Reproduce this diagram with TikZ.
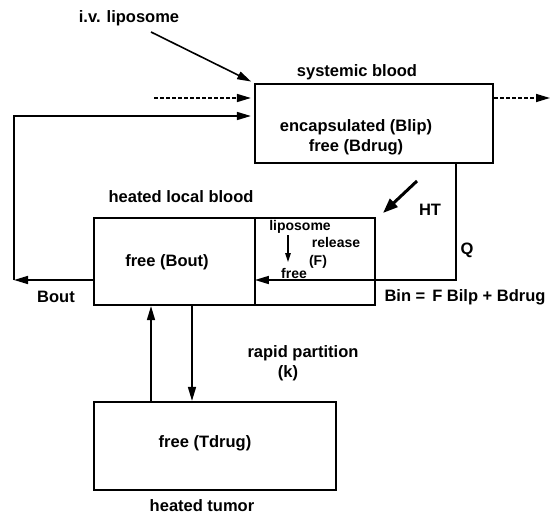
\documentclass[tikz,border=0pt]{standalone}
\usepackage{fontspec}
\setmainfont{Liberation Sans}
\usetikzlibrary{arrows.meta}
\begin{document}
\begin{tikzpicture}[x=1pt,y=-1pt,
  box/.style={draw, line width=2.2pt, inner sep=0pt},
  lbl/.style={font=\fontsize{16.5}{19}\selectfont\bfseries, inner sep=0pt},
  small/.style={font=\fontsize{14}{16}\selectfont\bfseries, inner sep=0pt},
  conn/.style={line width=1.6pt},
  arr/.style={conn, -{Triangle[length=14pt,width=8pt]}},
  dotarr/.style={arr, dash pattern=on 3.5pt off 2.5pt}]
\useasboundingbox (0,0) rectangle (550,514);
% boxes
\node[box, minimum width=238pt, minimum height=79pt] (sys) at (374,123.5) {};
\node[box, minimum width=161pt, minimum height=87pt] (hl) at (174.5,261.5) {};
\node[box, minimum width=120pt, minimum height=87pt] (hr) at (315,261.5) {};
\node[box, minimum width=242pt, minimum height=88pt] (tum) at (215,446) {};
% labels
\node[lbl] (iv) at (129,18) {i.v. liposome};
\node[lbl] (sb) at (357,72) {systemic blood};
\node[lbl] (enc) at (356,127) {encapsulated (Blip)};
\node[lbl] (bd) at (356,147) {free (Bdrug)};
\node[lbl] (hlb) at (181,197) {heated local blood};
\node[lbl] (ht) at (430,210) {HT};
\node[lbl] (q) at (467,250) {Q};
\node[lbl] (bout) at (167,262) {free (Bout)};
\node[small] (lip) at (300,227) {liposome};
\node[small] (rel) at (336,242) {release};
\node[small] (F) at (318,262) {(F)};
\node[small] (fr) at (294,273) {free};
\node[lbl] (boutl) at (56,297) {Bout};
\node[lbl] (bin) at (465,297) {Bin =\hspace{7pt}F Bilp + Bdrug};
\node[lbl] (rp) at (303,353) {rapid partition};
\node[lbl] (k) at (288,373) {(k)};
\node[lbl] (td) at (205,443) {free (Tdrug)};
\node[lbl] (htum) at (202,506) {heated tumor};
% coordinates
\coordinate (ivs) at (151,32);
\coordinate (din) at (154,98);
\coordinate (dout) at (550,98);
\coordinate (lc) at (14,280);
\coordinate (sc) at (14,116);
\coordinate (qc) at (456,280);
\coordinate (hts) at (417,181);
\coordinate (hte) at (383,213);
\coordinate (la) at (288,235);
\coordinate (lb) at (288,262);
\coordinate (ux) at (151,0);
\coordinate (dx) at (192,0);
% connectors
\draw[arr, shorten >=3pt] (ivs) -- (sys.north west);
\draw[dotarr, shorten >=3pt] (din) -- (din -| sys.west);
\draw[dotarr] (sys.east |- dout) -- (dout);
\draw[arr] (hl.west |- lc) -- (lc);
\draw[arr, shorten >=3pt] (lc) -- (sc) -- (sc -| sys.west);
\draw[arr, shorten >=1pt] (sys.south -| qc) -- (qc) -- (qc -| hr.west);
\draw[line width=3pt, -{Triangle[length=15pt,width=11pt]}] (hts) -- (hte);
\draw[line width=1.3pt, -{Triangle[length=9pt,width=5.5pt]}] (la) -- (lb);
\draw[arr] (tum.north -| ux) -- (hl.south -| ux);
\draw[arr] (hl.south -| dx) -- (tum.north -| dx);
\end{tikzpicture}
\end{document}
